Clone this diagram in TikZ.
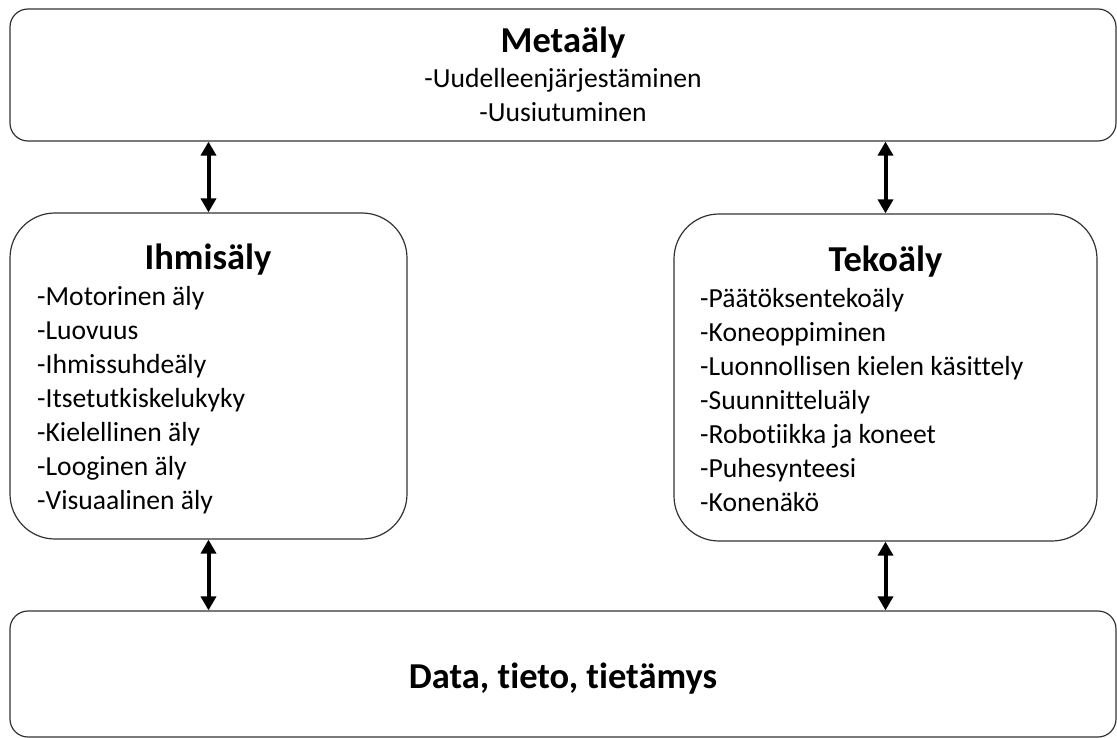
\documentclass[tikz,border=0pt]{standalone}
\usepackage{fontspec}
\setmainfont{Carlito}[Ligatures=NoCommon]
\usetikzlibrary{arrows.meta}

\tikzset{
  box/.style={draw=black!80, line width=1.2pt, rounded corners=18pt},
  bigbox/.style={box, rounded corners=45pt},
  heading/.style={font=\fontsize{36.5}{44}\selectfont\bfseries, inner sep=0pt},
  items/.style={font=\fontsize{27.6}{34}\selectfont, inner sep=0pt},
  link/.style={{Triangle[length=14pt,width=15pt]}-{Triangle[length=14pt,width=15pt]}, line width=4pt}
}

\begin{document}
\begin{tikzpicture}[x=1pt, y=-1pt]
\useasboundingbox (0,0) rectangle (1117,738);

% Metaäly (top)
\node[box, minimum width=1106pt, minimum height=132pt] (meta) at (563,75) {};
\node[heading, anchor=base] (metahead) at (563,53) {Metaäly};
\node[items, anchor=base, align=center] (metalist) at (563,122) {-Uudelleenjärjestäminen\\-Uusiutuminen};

% Ihmisäly (left)
\node[bigbox, minimum width=397pt, minimum height=326pt] (ihm) at (208.5,376) {};
\node[heading, anchor=base] (ihmhead) at (208,270) {Ihmisäly};
\node[items, anchor=base west, align=left] (ihmlist) at (37,509) {-Motorinen äly\\-Luovuus\\-Ihmissuhdeäly\\-Itsetutkiskelukyky\\-Kielellinen äly\\-Looginen äly\\-Visuaalinen äly};

% Tekoäly (right)
\node[bigbox, minimum width=423pt, minimum height=327pt] (tek) at (885.5,377.5) {};
\node[heading, anchor=base] (tekhead) at (885.5,272) {Tekoäly};
\node[items, anchor=base west, align=left] (teklist) at (700,511) {-Päätöksentekoäly\\-Koneoppiminen\\-Luonnollisen kielen käsittely\\-Suunnitteluäly\\-Robotiikka ja koneet\\-Puhesynteesi\\-Konenäkö};

% Data (bottom)
\node[box, minimum width=1106pt, minimum height=126pt] (data) at (563,674) {};
\node[heading, anchor=base] (datahead) at (563,688) {Data, tieto, tietämys};

% Arrows
\draw[link] (ihm.north |- meta.south) -- (ihm.north);
\draw[link] (tek.north |- meta.south) -- (tek.north);
\draw[link] (ihm.south) -- (ihm.south |- data.north);
\draw[link] (tek.south) -- (tek.south |- data.north);

\end{tikzpicture}
\end{document}
